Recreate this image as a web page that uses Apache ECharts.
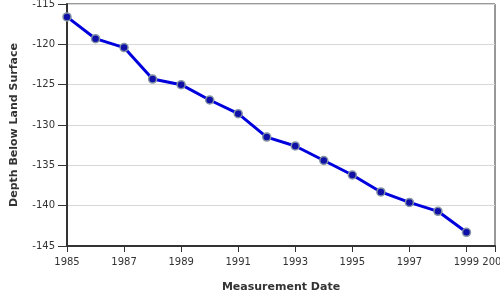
<!DOCTYPE html>
<html>
<head>
<meta charset="utf-8">
<script src="https://cdn.jsdelivr.net/npm/echarts@6/dist/echarts.min.js"></script>
<style>html,body{margin:0;padding:0;background:#fff}#c{width:500px;height:300px}</style>
</head>
<body>
<div id="c"></div>
<script>
var years = [1985,1986,1987,1988,1989,1990,1991,1992,1993,1994,1995,1996,1997,1998,1999];
var depths = [-116.6,-119.3,-120.4,-124.3,-125.0,-126.9,-128.6,-131.5,-132.6,-134.4,-136.2,-138.3,-139.6,-140.7,-143.3];
var xTitle = 'Measurement Date';
var yTitle = 'Depth Below Land Surface';

var chart = echarts.init(document.getElementById('c'), null, {renderer:'canvas'});
var font = 'DejaVu Sans';
chart.setOption({
  animation: false,
  backgroundColor: '#fff',
  grid: {left: 67, right: 5, top: 4, bottom: 54, containLabel: false, outerBoundsMode: 'none', show: true, borderColor: '#333', borderWidth: 1, backgroundColor: 'transparent'},
  xAxis: {
    type: 'value', min: 1985, max: 2000, interval: 2,
    name: xTitle, nameLocation: 'middle', nameGap: 36,
    nameTextStyle: {fontFamily: font, fontWeight: 'bold', fontSize: 11, color: '#333'},
    axisLine: {lineStyle: {color: '#333', width: 2}},
    axisTick: {show: true, length: 6, lineStyle: {color: '#333', width: 1}},
    axisLabel: {fontFamily: font, fontSize: 10, color: '#333', margin: 11, hideOverlap: false, formatter: function(v){return String(v);}},
    splitLine: {show: false}
  },
  yAxis: {
    type: 'value', min: -145, max: -115, interval: 5,
    name: yTitle, nameLocation: 'middle', nameGap: 47,
    nameTextStyle: {fontFamily: font, fontWeight: 'bold', fontSize: 11, color: '#333'},
    axisLine: {show: true, lineStyle: {color: '#333', width: 2}},
    axisTick: {show: true, length: 9, lineStyle: {color: '#333', width: 1}},
    axisLabel: {fontFamily: font, fontSize: 10, color: '#333', margin: 12},
    splitLine: {show: true, lineStyle: {color: '#d8d8d8', width: 1}}
  },
  series: [{
    type: 'line',
    data: years.map(function(y, i){ return [y, depths[i]]; }),
    lineStyle: {color: '#0000dd', width: 3},
    symbol: 'circle', symbolSize: 8,
    itemStyle: {color: '#1010a8', borderColor: '#8494a4', borderWidth: 1.5},
    z: 5
  }]
});
</script>
</body>
</html>
